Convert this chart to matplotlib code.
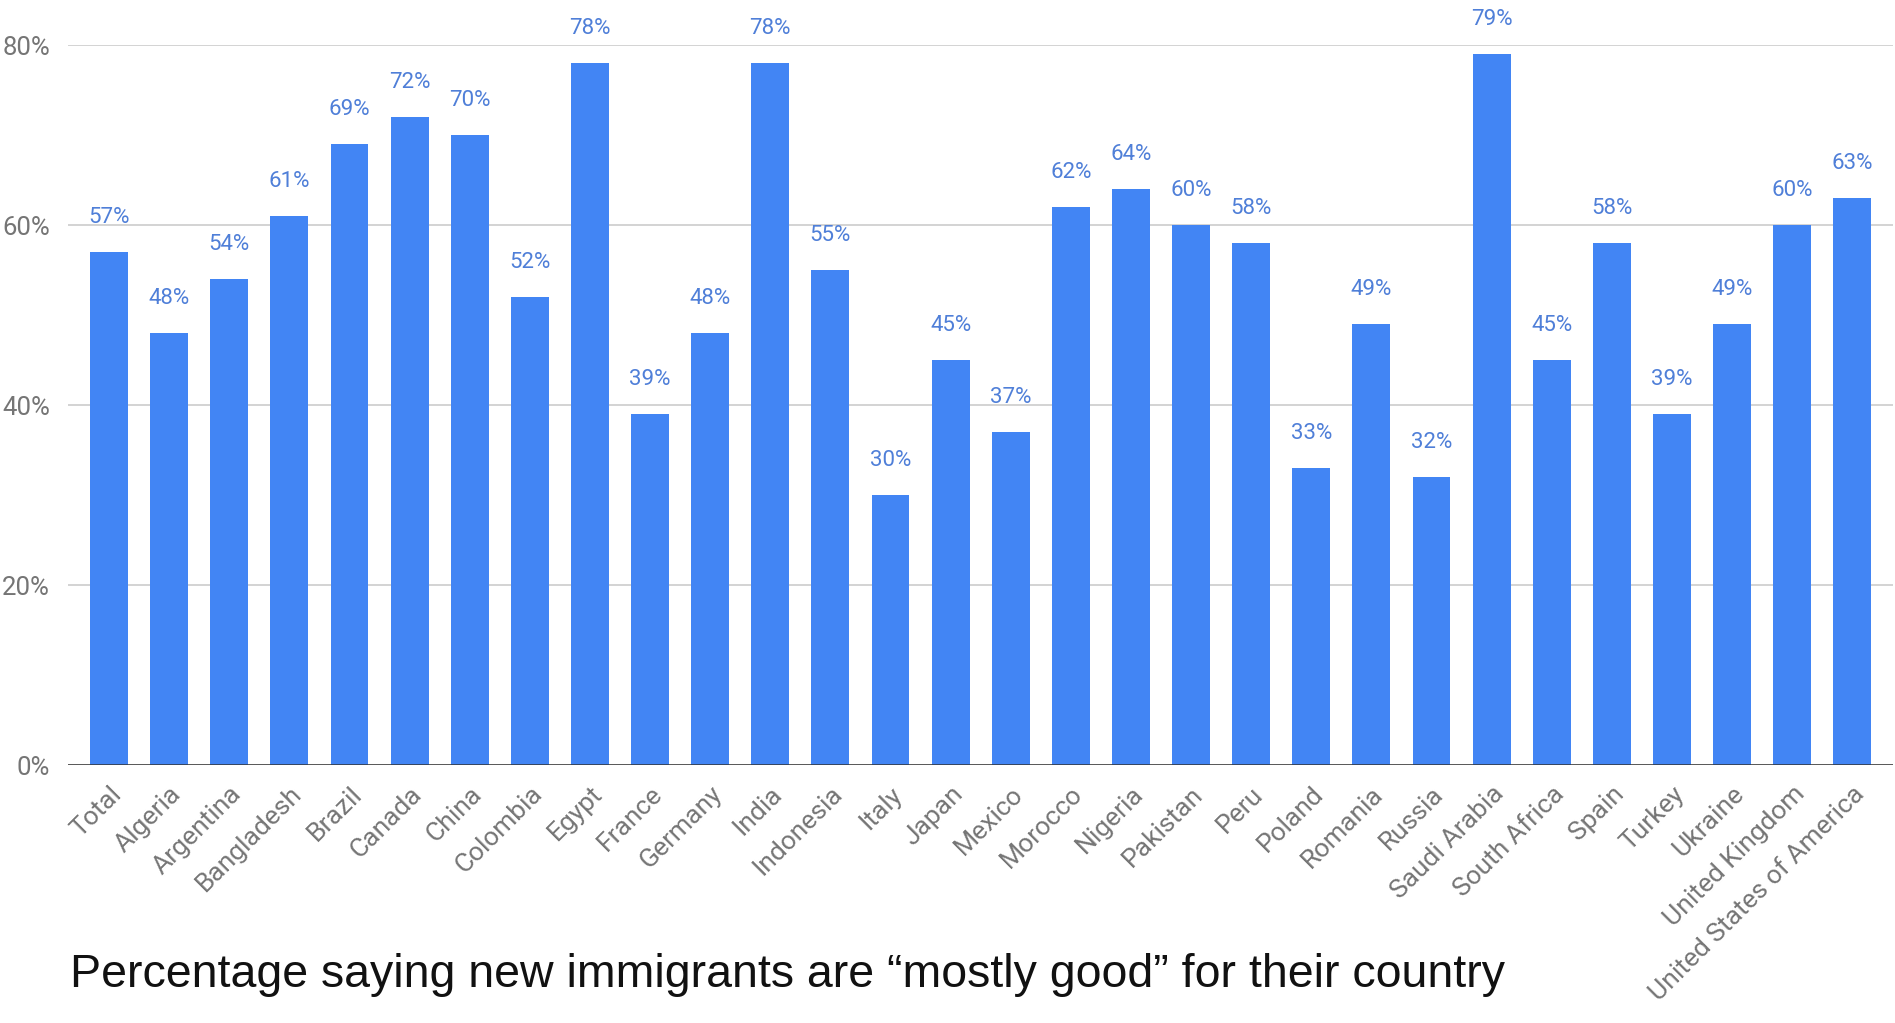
import matplotlib.pyplot as plt
from matplotlib.ticker import FuncFormatter

countries = [
    "Total", "Algeria", "Argentina", "Bangladesh", "Brazil", "Canada", "China",
    "Colombia", "Egypt", "France", "Germany", "India", "Indonesia", "Italy",
    "Japan", "Mexico", "Morocco", "Nigeria", "Pakistan", "Peru", "Poland",
    "Romania", "Russia", "Saudi Arabia", "South Africa", "Spain", "Turkey",
    "Ukraine", "United Kingdom", "United States of America",
]
pct_good = [
    57, 48, 54, 61, 69, 72, 70, 52, 78, 39, 48, 78, 55, 30, 45, 37, 62, 64,
    60, 58, 33, 49, 32, 79, 45, 58, 39, 49, 60, 63,
]
y_ticks = [0, 20, 40, 60, 80]

BAR_BLUE = "#4285f4"
LABEL_BLUE = "#4f7fd8"
TICK_GRAY = "#757575"

plt.rcParams["font.family"] = ["Roboto", "DejaVu Sans"]

fig = plt.figure(figsize=(18.95, 10.23), dpi=100)
ax = fig.add_axes([0.036, 0.252, 0.963, 0.704])

x = range(len(countries))
bars = ax.bar(x, pct_good, width=0.63, color=BAR_BLUE, zorder=2)

for rect, v in zip(bars, pct_good):
    ax.annotate(f"{v}%", (rect.get_x() + rect.get_width() / 2, v),
                xytext=(0, 25), textcoords="offset points",
                ha="center", va="center", fontsize=16, color=LABEL_BLUE,
                annotation_clip=False)

ax.set_xlim(-0.68, len(countries) - 0.32)
ax.set_ylim(0, 80)
ax.set_yticks(y_ticks)
ax.yaxis.set_major_formatter(FuncFormatter(lambda v, _: f"{v:.0f}%"))
ax.grid(axis="y", color="#d0d0d0", linewidth=1.3, zorder=0)
ax.axhline(0, color="#333333", linewidth=1.8, zorder=3)

ax.set_xticks(list(x))
ax.set_xticklabels(countries, rotation=45, ha="right", rotation_mode="anchor",
                   fontsize=19, color=TICK_GRAY)
ax.tick_params(axis="x", length=0, pad=12)
ax.tick_params(axis="y", length=0, pad=13, labelsize=18.5, labelcolor=TICK_GRAY)

for side in ["top", "right", "left", "bottom"]:
    ax.spines[side].set_visible(False)

fig.text(0.037, 0.035, "Percentage saying new immigrants are \u201cmostly good\u201d for their country",
         fontsize=33.5, family=["Liberation Sans", "DejaVu Sans"], color="#111111",
         ha="left", va="baseline")

fig.savefig("out.png", dpi=100)
